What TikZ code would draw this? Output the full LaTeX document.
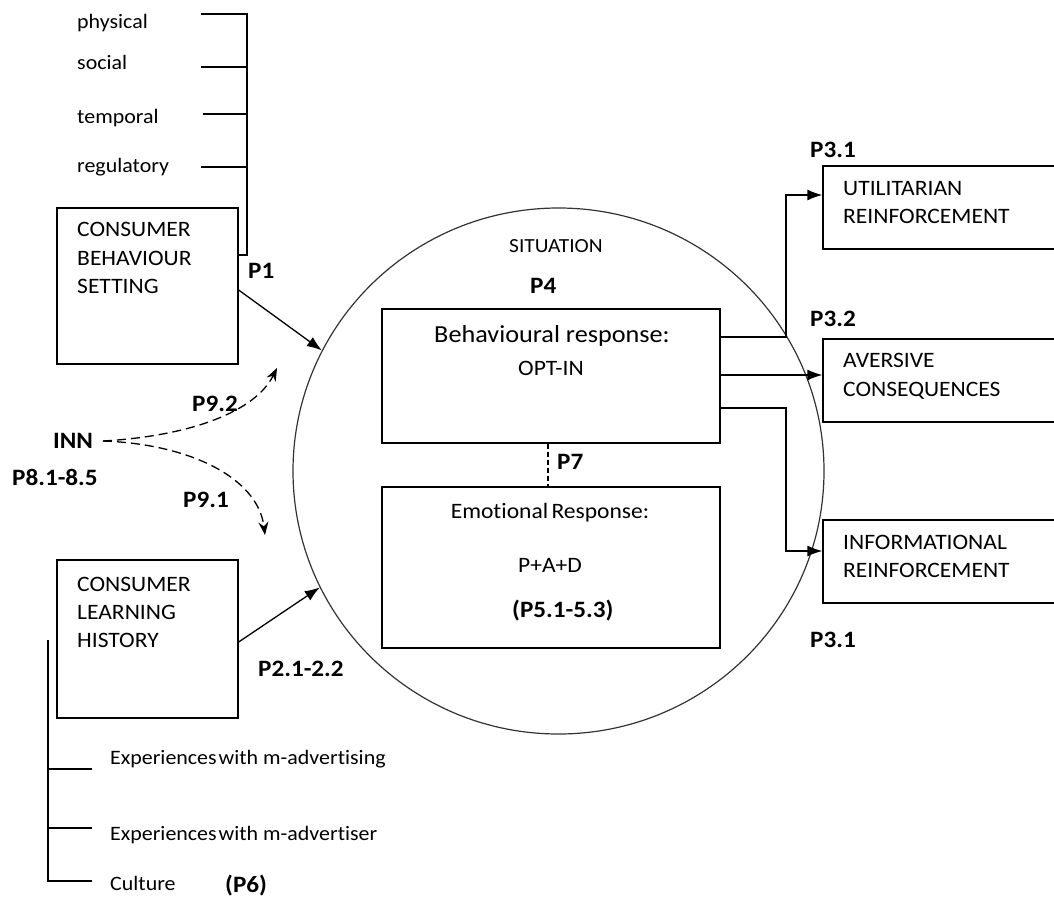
\documentclass[tikz,border=0pt]{standalone}
\usepackage{fontspec}
\setmainfont{Carlito}[FakeStretch=1.07,Ligatures=NoCommon]
\usetikzlibrary{arrows.meta,calc,shapes.geometric}
\begin{document}
\begin{tikzpicture}[x=1pt,y=-1pt,
  txt/.style={inner sep=0pt, font=\fontsize{22}{28}\selectfont},
  lbl/.style={txt, anchor=base west},
  small/.style={lbl, font=\fontsize{20.5}{26}\selectfont},
  blbl/.style={lbl, font=\fontsize{23.5}{28}\selectfont\bfseries},
  mid/.style={txt, anchor=base},
  boxnode/.style={draw, line width=1.3pt, rectangle, inner sep=0pt},
  link/.style={line width=1.3pt},
  arr/.style={link, -{Latex[length=15pt,width=11pt]}},
  darr/.style={line width=1.3pt, dash pattern=on 9pt off 5pt, -{Stealth[length=13pt,width=10pt]}},
]
\useasboundingbox (0,0) rectangle (1054,899);
\clip (0,0) rectangle (1054,899);

% situation circle
\node[draw=black!80, ellipse, line width=1.2pt, minimum width=531pt, minimum height=526pt, inner sep=0pt] (sit) at (558.5,471) {};
\node[lbl, font=\fontsize{20}{26}\selectfont] (sitT) at (509,252) {SITUATION};
\node[blbl] (p4) at (530,293) {P4};

% behaviour setting and its dimensions
\node[boxnode, minimum width=181pt, minimum height=156pt] (cbs) at (147.5,286) {};
\node[lbl] (cbs1) at (77,236) {CONSUMER};
\node[lbl] (cbs2) at (77,265) {BEHAVIOUR};
\node[lbl] (cbs3) at (77,293) {SETTING};
\node[blbl] (p1) at (248,278) {P1};

\node[small] (dphys) at (77,29) {physical};
\node[small] (dsoc) at (77,70) {social};
\node[small] (dtemp) at (77,123) {temporal};
\node[small] (dreg) at (77,172) {regulatory};
\coordinate (bt0) at (201,14);
\coordinate (bt1) at (201,67);
\coordinate (bt2) at (203,114);
\coordinate (bt3) at (201,167);
\coordinate (bx) at (247,14);
\draw[link] (cbs.east |- 0,255) -- (bx |- 0,255) -- (bx) -- (bt0);
\draw[link] (bt1) -- (bx |- bt1);
\draw[link] (bt2) -- (bx |- bt2);
\draw[link] (bt3) -- (bx |- bt3);

% learning history and its components
\node[boxnode, minimum width=181pt, minimum height=158pt] (clh) at (147.5,639) {};
\node[lbl] (clh1) at (77,591) {CONSUMER};
\node[lbl] (clh2) at (77,619) {LEARNING};
\node[lbl] (clh3) at (77,647) {HISTORY};
\node[blbl] (p2) at (258,676) {P2.1-2.2};

\node[small] (eadv) at (110,764) {Experiences\hspace{-3pt} with m-advertising};
\node[small] (eadr) at (110,840) {Experiences\hspace{-3pt} with m-advertiser};
\node[small] (cult) at (110,890) {Culture};
\node[blbl] (p6) at (225,892) {(P6)};
\coordinate (lt) at (48,640);
\coordinate (le1) at (92,769);
\coordinate (le2) at (92,828);
\coordinate (le3) at (92,881);
\draw[link] (lt) -- (lt |- le3) -- (le3);
\draw[link] (lt |- le1) -- (le1);
\draw[link] (lt |- le2) -- (le2);

% inputs into the situation
\draw[arr] ($(cbs.east)+(0,4)$) -- (sit.153.6);
\draw[arr] ($(clh.east)+(0,3)$) -- (sit.206.8);

% innovativeness
\node[blbl] (inn) at (53,448) {INN};
\node[blbl] (p8) at (12,485) {P8.1-8.5};
\node[blbl] (p92) at (192,411) {P9.2};
\node[blbl] (p91) at (183,507) {P9.1};
\coordinate (innE) at (103,441);
\coordinate (upTip) at (277,368);
\coordinate (dnTip) at (265,535);
\draw[darr] (innE) .. controls (190,436) and (255,412) .. (upTip);
\draw[darr] (innE) .. controls (190,444) and (258,478) .. (dnTip);

% responses inside the situation
\node[boxnode, minimum width=338pt, minimum height=134pt] (beh) at (551,376) {};
\node[mid, font=\fontsize{24.5}{30}\selectfont] (beh1) at (552,342) {Behavioural response:};
\node[mid] (beh2) at (551,375) {OPT-IN};
\node[boxnode, minimum width=338pt, minimum height=161pt] (emo) at (551,567.5) {};
\node[mid] (emo1) at (550,518) {Emotional\hspace{-2pt} Response:};
\node[mid] (emo2) at (550,572) {P+A+D};
\node[blbl] (p5) at (512,617) {(P5.1-5.3)};
\draw[line width=1.2pt, dash pattern=on 5pt off 3pt] ($(beh.south)+(-3,0)$) -- ($(emo.north)+(-3,0)$);
\node[blbl] (p7) at (557,469) {P7};

% consequences
\node[boxnode, minimum width=247pt, minimum height=83pt] (util) at (946.5,207.5) {};
\node[lbl] (util1) at (843,195) {UTILITARIAN};
\node[lbl] (util2) at (843,223) {REINFORCEMENT};
\node[boxnode, minimum width=247pt, minimum height=83pt] (aver) at (946.5,380.5) {};
\node[lbl] (aver1) at (843,367) {AVERSIVE};
\node[lbl] (aver2) at (843,396) {CONSEQUENCES};
\node[boxnode, minimum width=247pt, minimum height=83pt] (info) at (946.5,561.5) {};
\node[lbl] (info1) at (843,549) {INFORMATIONAL};
\node[lbl] (info2) at (843,577) {REINFORCEMENT};
\node[blbl] (p31a) at (810,157) {P3.1};
\node[blbl] (p32) at (810,326) {P3.2};
\node[blbl] (p31b) at (810,647) {P3.1};

\coordinate (bend) at (786,0);
\draw[arr] (beh.east |- 0,337) -- (bend |- 0,337) -- (bend |- 0,195) -- (util.west |- 0,195);
\draw[arr] (beh.east |- 0,375) -- (aver.west |- 0,375);
\draw[arr] (beh.east |- 0,408) -- (bend |- 0,408) -- (bend |- 0,551) -- (info.west |- 0,551);
\end{tikzpicture}
\end{document}
